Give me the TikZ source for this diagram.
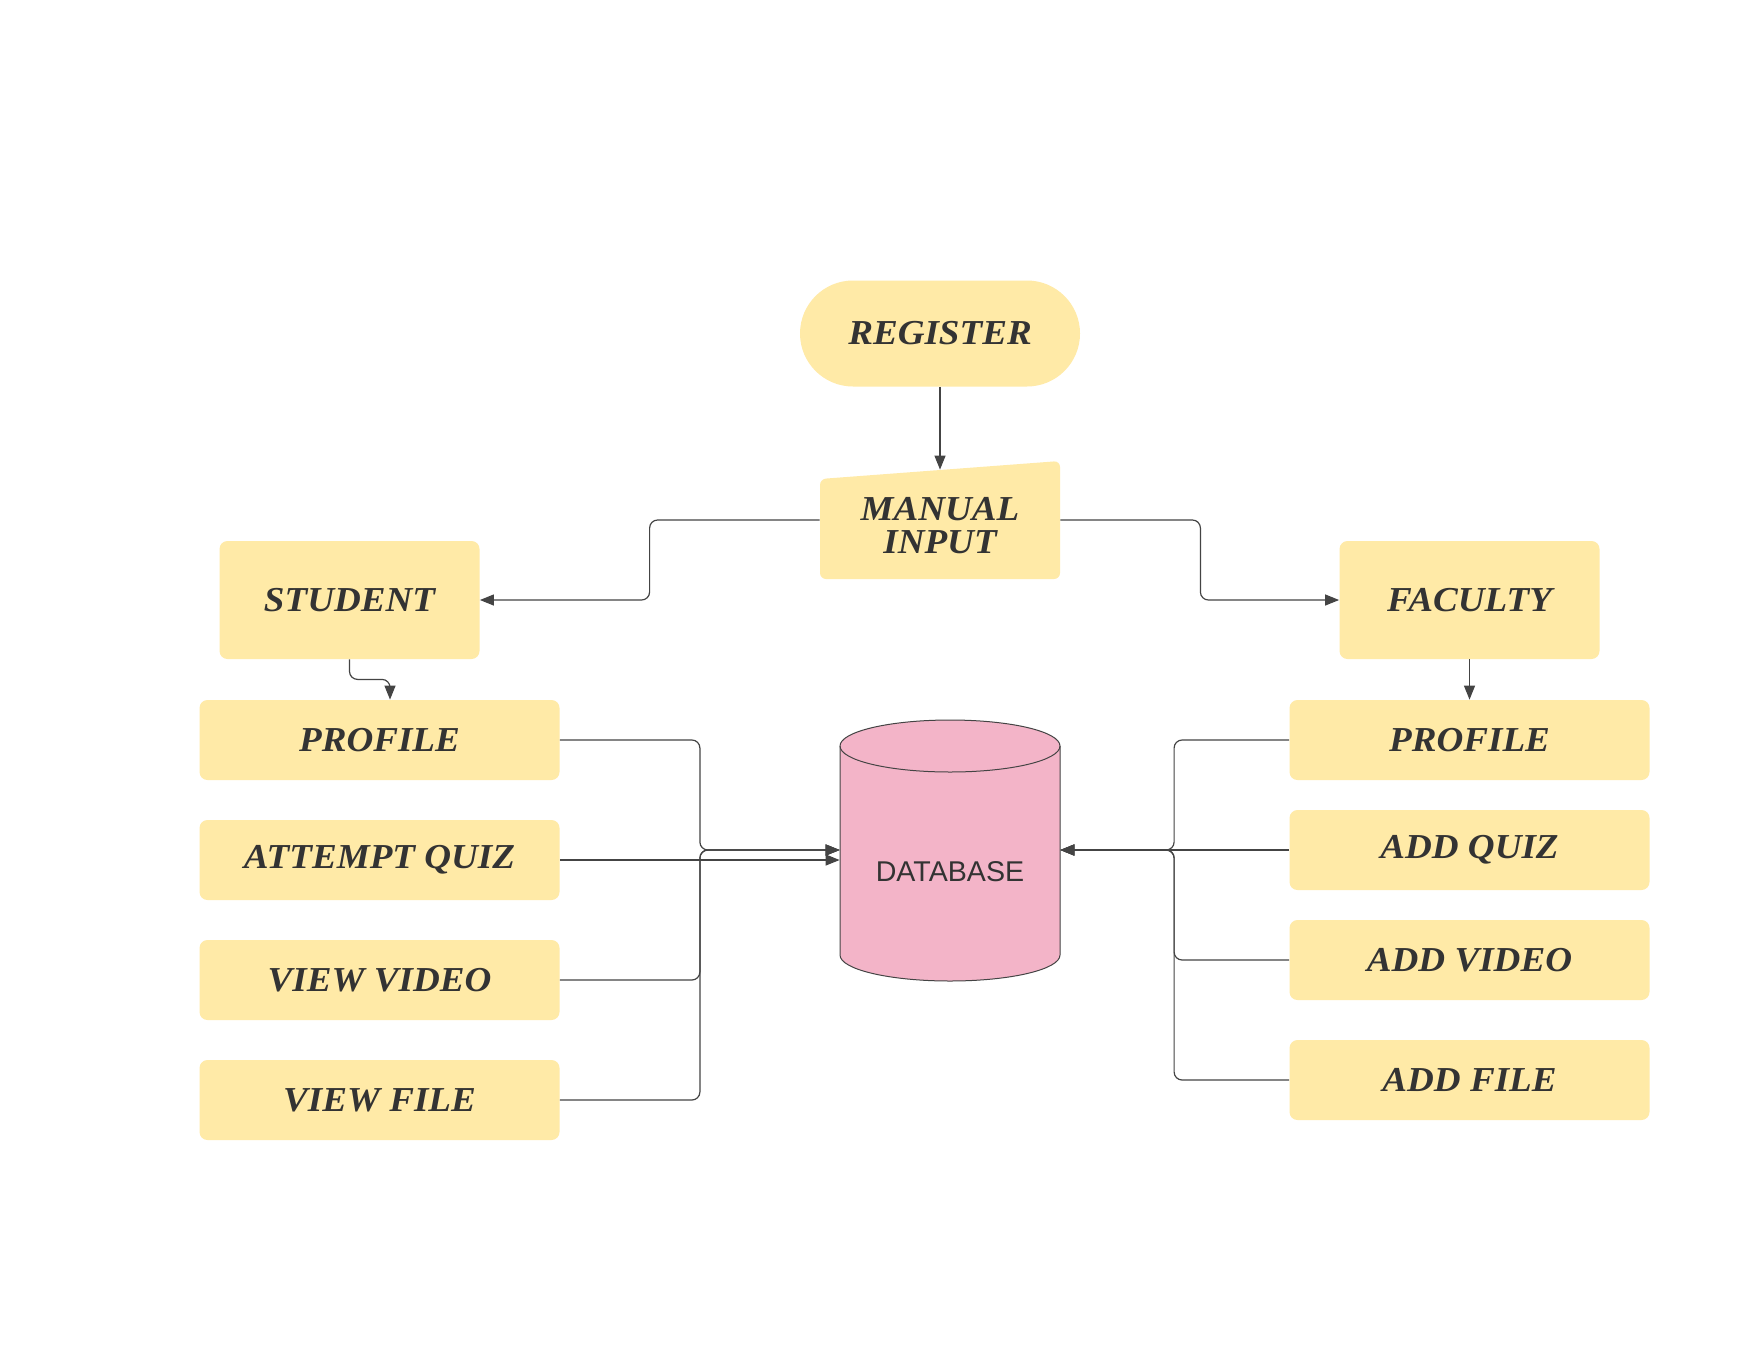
\documentclass[tikz,border=0pt]{standalone}
\usepackage{fontspec}
\setmainfont{Liberation Serif}[FakeStretch=1.06]
\newfontfamily\dbfont{Liberation Sans}
\usetikzlibrary{arrows.meta}
\definecolor{boxc}{HTML}{FFEAA7}
\definecolor{dbc}{HTML}{F3B4C8}
\definecolor{txtc}{HTML}{333333}
\definecolor{linec}{HTML}{444444}
\tikzset{
  box/.style={rectangle, fill=boxc, rounded corners=4pt, text=txtc,
    font=\fontsize{17.5}{19}\selectfont\bfseries\itshape, inner sep=0pt},
  sidebox/.style={box, minimum width=180pt, minimum height=40pt},
  rolebox/.style={box, minimum width=130pt, minimum height=59pt},
  conn/.style={draw=linec, line width=0.6pt, rounded corners=4pt},
  arr/.style={conn, -{Triangle[length=7pt,width=5.5pt]}},
}
\begin{document}
\begin{tikzpicture}[x=0.5pt,y=-0.5pt]
\path[use as bounding box] (0,0) rectangle (1760,1360);
\fill[white] (0,0) rectangle (1760,1360);

% register
\node[box, rounded corners=26.5pt, minimum width=140pt, minimum height=53pt] (reg) at (940,333.5) {REGISTER};

% manual input
\fill[boxc, rounded corners=3pt] (820,479) -- (1060,461) -- (1060,579) -- (820,579) -- cycle;
\node[box, fill=none, minimum width=120pt, minimum height=56pt, align=center,
  font=\fontsize{17.5}{16.5}\selectfont\bfseries\itshape] (man) at (940,526) {MANUAL\\INPUT};

% roles
\node[rolebox] (stu) at (349.5,600) {STUDENT};
\node[rolebox] (fac) at (1469.5,600) {FACULTY};

% left column
\node[sidebox] (lprof) at (379.5,740) {PROFILE};
\node[sidebox] (latt) at (379.5,860) {ATTEMPT QUIZ};
\node[sidebox] (lvid) at (379.5,980) {VIEW VIDEO};
\node[sidebox] (lfile) at (379.5,1100) {VIEW FILE};

% right column
\node[sidebox] (rprof) at (1469.5,740) {PROFILE};
\node[sidebox] (rquiz) at (1469.5,850) {ADD QUIZ};
\node[sidebox] (rvid) at (1469.5,960) {ADD VIDEO};
\node[sidebox] (rfile) at (1469.5,1080) {ADD FILE};

% database cylinder
\filldraw[fill=dbc, draw=linec, line width=0.5pt]
  (840,746) -- (840,955) arc[start angle=180, end angle=360, x radius=55pt, y radius=13pt]
  -- (1060,746) arc[start angle=0, end angle=180, x radius=55pt, y radius=13pt] -- cycle;
\draw[draw=linec, line width=0.5pt] (840,746) arc[start angle=180, end angle=360, x radius=55pt, y radius=13pt];
\node[minimum width=110pt, minimum height=130pt, inner sep=0pt] (db) at (950,850) {};
\node[text=txtc, font=\dbfont\fontsize{14.3}{16}\selectfont] (dbl) at (950,872) {DATABASE};

% connectors
\draw[arr] (reg.south) -- (man.north);
\draw[arr] ([yshift=3pt]man.west) -- ++(-170,0) |- (stu.east);
\draw[arr] ([yshift=3pt]man.east) -- ++(140,0) |- (fac.west);
\draw[arr] (stu.south) -- ++(0,20) -| ([xshift=5.25pt]lprof.north);
\draw[arr] (fac.south) -- (rprof.north);

\draw[arr] (lprof.east) -- ++(140,0) |- (db.west);
\draw[arr] (lvid.east) -- ++(140,0) |- (db.west);
\draw[arr] (lfile.east) -- ++(140,0) |- (db.west);
\draw[arr] (latt.east) -- (latt.east -| db.west);

\draw[arr] (rprof.west) -- ++(-115,0) |- (db.east);
\draw[arr] (rvid.west) -- ++(-115,0) |- (db.east);
\draw[arr] (rfile.west) -- ++(-115,0) |- (db.east);
\draw[arr] (rquiz.west) -- (db.east);
\end{tikzpicture}
\end{document}
